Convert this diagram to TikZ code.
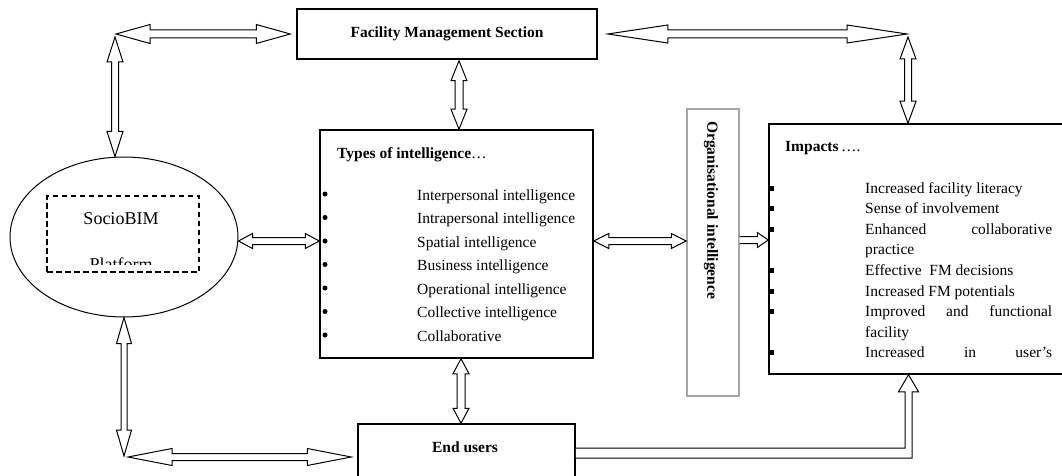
\documentclass[tikz,border=0pt]{standalone}
\usepackage{fontspec}
\setmainfont{Liberation Serif}
\usetikzlibrary{calc,shapes.geometric}
% horizontal double block arrow: #1 left tip, #2 right tip, #3 head length, #4 head half-width, #5 shaft half-width
\newcommand\HDArr[5]{\draw[arr] (#1) -- ([shift={(#3,-#4)}]#1) -- ([shift={(#3,-#5)}]#1) -- ([shift={(-#3,-#5)}]#2) -- ([shift={(-#3,-#4)}]#2) -- (#2) -- ([shift={(-#3,#4)}]#2) -- ([shift={(-#3,#5)}]#2) -- ([shift={(#3,#5)}]#1) -- ([shift={(#3,#4)}]#1) -- cycle;}
% vertical double block arrow: #1 top tip, #2 bottom tip
\newcommand\VDArr[5]{\draw[arr] (#1) -- ([shift={(#4,#3)}]#1) -- ([shift={(#5,#3)}]#1) -- ([shift={(#5,-#3)}]#2) -- ([shift={(#4,-#3)}]#2) -- (#2) -- ([shift={(-#4,-#3)}]#2) -- ([shift={(-#5,-#3)}]#2) -- ([shift={(-#5,#3)}]#1) -- ([shift={(-#4,#3)}]#1) -- cycle;}
% horizontal single block arrow, open tail at #1
\newcommand\HSArr[5]{\draw[arr] ([shift={(0,-#5)}]#1) -- ([shift={(-#3,-#5)}]#2) -- ([shift={(-#3,-#4)}]#2) -- (#2) -- ([shift={(-#3,#4)}]#2) -- ([shift={(-#3,#5)}]#2) -- ([shift={(0,#5)}]#1);}
\begin{document}
\begin{tikzpicture}[x=1pt,y=-1pt,
  box/.style={draw, line width=1.5pt, inner sep=0pt},
  arr/.style={draw, fill=white, line width=1pt, line join=miter},
  txt/.style={font=\fontsize{15.5}{18}\selectfont, inner sep=0pt},
  btxt/.style={font=\fontsize{15.5}{18}\selectfont\bfseries, inner sep=0pt},
  bigtxt/.style={font=\fontsize{18}{21}\selectfont, inner sep=0pt},
  dotbullet/.style={circle, fill=black, minimum size=5pt, inner sep=0pt},
  sqbullet/.style={fill=black, minimum width=4.5pt, minimum height=5pt, inner sep=0pt}]
\useasboundingbox (0,0) rectangle (1062,476);
\clip (0,0) rectangle (1062,476);

% ---- nodes ----
\node[box, btxt, minimum width=300, minimum height=50] (fm) at (447,34) {Facility Management Section};

\node[ellipse, draw, line width=1pt, minimum width=228, minimum height=160, inner sep=0pt] (ell) at (124,237) {};
\node[draw, dash pattern=on 5.5pt off 3.5pt, line width=1.1pt, minimum width=152, minimum height=76, inner sep=0pt] (dbox) at (123,234) {};
\node[bigtxt, anchor=base] (sb) at (121,224) {SocioBIM};
\begin{scope}
  \clip (47,196) rectangle (199,264);
  \node[bigtxt, anchor=base] (plat) at (121,270) {Platform};
\end{scope}

\node[box, minimum width=273, minimum height=228] (types) at (456.5,244) {};
\node[btxt, anchor=base west] (tt) at (337,158) {Types of intelligence{\mdseries …}};
\foreach \t [count=\i] in {Interpersonal intelligence, Intrapersonal intelligence, Spatial intelligence, Business intelligence, Operational intelligence, Collective intelligence, Collaborative} {
  \pgfmathsetmacro\yy{200+23.5*(\i-1)}
  \node[txt, anchor=base west] (ti\i) at (417,\yy) {\t};
  \node[dotbullet] (tb\i) at (325,\yy-6) {};
}

\node[box, minimum width=217, minimum height=70] (eu) at (466.5,459) {};
\node[btxt] (eut) at (465,447) {End users};

\node[draw=gray!70, line width=1.3pt, minimum width=52, minimum height=287, inner sep=0pt] (org) at (713,252.5) {};
\node[btxt, rotate=-90, anchor=west] (ot) at (711,121) {Organisational intelligence};

\node[box, minimum width=306, minimum height=250] (imp) at (922,249) {};
\node[btxt, anchor=base west] (it) at (785,151) {Impacts{\mdseries\,….}};
\foreach \t [count=\i] in {Increased facility literacy, Sense of involvement, {\hbox to 187pt{Enhanced\hfill collaborative}}, practice, Effective\ \ FM decisions, Increased FM potentials, {\hbox to 187pt{Improved\hfill and\hfill functional}}, facility, {\hbox to 187pt{Increased\hfill in\hfill user’s}}} {
  \pgfmathsetmacro\yy{193+20.6*(\i-1)}
  \node[txt, anchor=base west] (il\i) at (865,\yy) {\t};
}
\foreach \i in {1,2,3,5,6,7,9} {
  \node[sqbullet] (ib\i) at (772,188+20.6*\i-20.6) {};
}

% ---- connectors ----
\coordinate (c1) at (116,34);
\coordinate (fmw) at ($(fm.west)+(-6,0)$);
\HDArr{c1}{fmw}{34}{9.5}{4}
\coordinate (c1v) at ($(c1)+(-1,3)$);
\coordinate (c1b) at (c1v |- ell.north);
\VDArr{c1v}{c1b}{25}{8}{3.5}

\coordinate (p2a) at ($(fm.south)+(12,1)$);
\coordinate (p2b) at (p2a |- types.north);
\VDArr{p2a}{p2b}{20}{8}{4}

\coordinate (p3a) at ($(types.south)+(4.5,0)$);
\coordinate (p3b) at (p3a |- eu.north);
\VDArr{p3a}{p3b}{15}{8}{4}

\coordinate (p4) at ($(ell.east)+(0,4)$);
\coordinate (p4b) at (p4 -| types.west);
\HDArr{p4}{p4b}{14}{7.5}{3.5}

\coordinate (p5a) at (p4 -| types.east);
\coordinate (p5b) at (p4 -| org.west);
\HDArr{p5a}{p5b}{15}{7.5}{3.5}

\coordinate (p6a) at ($(p4 -| org.east)+(0,-1)$);
\coordinate (p6b) at (p6a -| imp.west);
\HSArr{p6a}{p6b}{11}{7.5}{3.5}

\coordinate (p7a) at ($(fm.east)+(10,0)$);
\coordinate (c2) at (907,34);
\HDArr{p7a}{c2}{60}{9}{4}
\coordinate (c2v) at ($(c2)+(1,3)$);
\coordinate (c2b) at (c2v |- imp.north);
\VDArr{c2v}{c2b}{22}{8}{3.5}

\coordinate (c3) at (124,456);
\VDArr{ell.south}{c3}{26}{7.5}{3}
\coordinate (c3h) at ($(c3)+(4,1)$);
\coordinate (c3e) at ($(c3h -| eu.west)+(-6,0)$);
\HDArr{c3h}{c3e}{44}{8.5}{3.5}

\coordinate (q) at (908.5,453);
\coordinate (qt) at (q |- imp.south);
\draw[arr] ($(eu.east |- q)+(0,-5)$) -- ($(q)+(-3.5,-5)$) -- ($(qt)+(-3.5,17)$) -- ($(qt)+(-10,17)$) -- (qt) -- ($(qt)+(10,17)$) -- ($(qt)+(3.5,17)$) -- ($(q)+(3.5,5)$) -- ($(eu.east |- q)+(0,5)$);
\end{tikzpicture}
\end{document}
